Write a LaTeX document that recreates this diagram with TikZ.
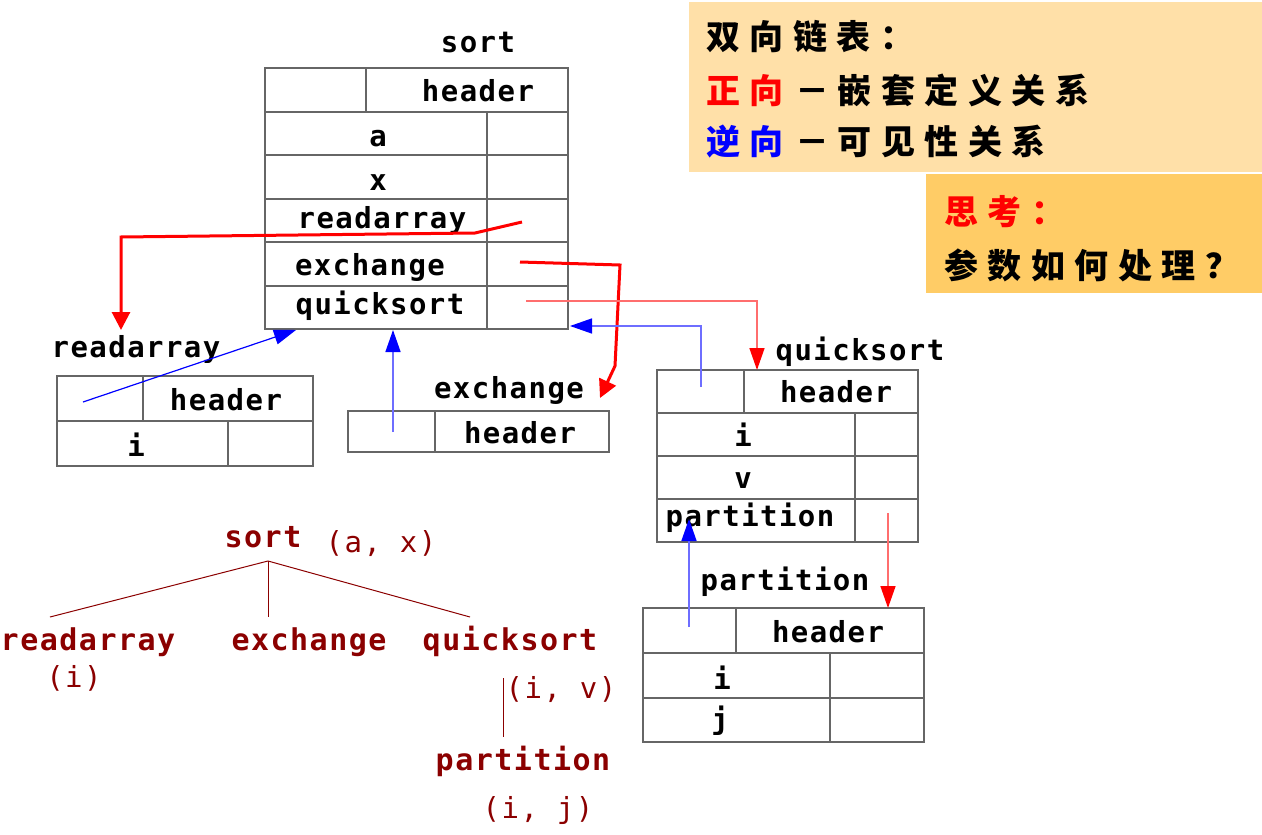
\documentclass[tikz,border=0pt]{standalone}
\usepackage{fontspec}
\usetikzlibrary{arrows.meta}
\newfontfamily\lat[LetterSpace=5]{DejaVu Sans Mono}
\newfontfamily\cjk[LetterSpace=28]{Noto Sans CJK SC}
\definecolor{treered}{RGB}{139,0,0}
\definecolor{boxa}{RGB}{255,224,168}
\definecolor{boxb}{RGB}{255,204,102}
\definecolor{lred}{RGB}{255,110,110}
\definecolor{lblue}{RGB}{110,110,255}
\tikzset{
  tbl/.style={draw=black!60, line width=1.3pt},
  lbl/.style={font=\lat\bfseries\fontsize{29}{31}\selectfont, inner sep=0pt, anchor=base},
  tlbl/.style={lbl, text=treered, font=\lat\bfseries\fontsize{30}{32}\selectfont},
  targ/.style={lbl, text=treered, font=\lat\fontsize{29}{31}\selectfont},
  tline/.style={draw=treered, line width=1pt},
  cjkt/.style={font=\cjk\bfseries\fontsize{34}{36}\selectfont, inner sep=0pt, anchor=west},
  thickred/.style={draw=red, line width=3pt, -{Triangle[length=18pt,width=18pt]}},
  thinred/.style={draw=lred, line width=1.5pt, -{Triangle[length=22pt,width=15pt,color=red,fill=red]}},
  thinblue/.style={draw=blue, line width=1.2pt, -{Triangle[length=22pt,width=15pt,fill=blue]}},
  lbluearr/.style={draw=lblue, line width=1.5pt, -{Triangle[length=22pt,width=15pt,color=blue,fill=blue]}}
}
\begin{document}
\begin{tikzpicture}[x=1pt,y=-1pt]
\useasboundingbox (0,0) rectangle (1262,835);
% info boxes
\fill[boxa] (689,2) rectangle (1262,172);
\fill[boxb] (926,174) rectangle (1262,293);
\node[cjkt] (t1) at (706,37) {双向链表：};
\node[cjkt] (t2) at (706,90) {\textcolor{red}{正向}\hspace{12pt}－\hspace{8pt}嵌套定义关系};
\node[cjkt] (t3) at (706,142) {\textcolor{blue}{逆向}\hspace{12pt}－\hspace{8pt}可见性关系};
\node[cjkt] (t4) at (944,212) {\textcolor{red}{思考：}};
\node[cjkt] (t5) at (944,265) {参数如何处理？};

% sort table
\draw[tbl] (265,68) rectangle (568,329);
\foreach \y in {112,155,199,242,286} \draw[tbl] (265,\y) -- (568,\y);
\draw[tbl] (366,68) -- (366,112);
\draw[tbl] (487,112) -- (487,329);
\node[lbl] (sortt) at (478,52) {sort};
\node[lbl] (sorth) at (478,101) {header};
\node[lbl] (sa) at (378,146) {a};
\node[lbl] (sx) at (378,190) {x};
\node[lbl] (sr) at (382,228) {readarray};
\node[lbl] (se) at (370,275) {exchange};
\node[lbl] (sq) at (380,314) {quicksort};

% readarray table
\draw[tbl] (57,376) rectangle (313,466);
\draw[tbl] (57,421) -- (313,421);
\draw[tbl] (143,376) -- (143,421);
\draw[tbl] (228,421) -- (228,466);
\node[lbl] (rat) at (136,357) {readarray};
\node[lbl] (rah) at (226,410) {header};
\node[lbl] (rai) at (136,456) {i};

% exchange table
\draw[tbl] (348,411) rectangle (609,452);
\draw[tbl] (435,411) -- (435,452);
\node[lbl] (ext) at (509,398) {exchange};
\node[lbl] (exh) at (520,443) {header};

% quicksort table
\draw[tbl] (657,370) rectangle (918,542);
\foreach \y in {413,456,499} \draw[tbl] (657,\y) -- (918,\y);
\draw[tbl] (744,370) -- (744,413);
\draw[tbl] (855,413) -- (855,542);
\node[lbl] (qst) at (860,360) {quicksort};
\node[lbl] (qsh) at (836,402) {header};
\node[lbl] (qsi) at (743,446) {i};
\node[lbl] (qsv) at (743,488) {v};
\node[lbl] (qsp) at (750,526) {partition};

% partition table
\draw[tbl] (643,608) rectangle (924,742);
\foreach \y in {653,698} \draw[tbl] (643,\y) -- (924,\y);
\draw[tbl] (736,608) -- (736,653);
\draw[tbl] (830,653) -- (830,742);
\node[lbl] (ptt) at (785,590) {partition};
\node[lbl] (pth) at (828,642) {header};
\node[lbl] (pti) at (722,689) {i};
\node[lbl] (ptj) at (720,729) {j};

% connector coordinates
\coordinate (r1s) at (522,222);
\coordinate (r1a) at (475,233);
\coordinate (r1b) at (121,237);
\coordinate (r1e) at (121,330);
\coordinate (r2s) at (520,262);
\coordinate (r2a) at (620,265);
\coordinate (r2b) at (615,366);
\coordinate (r2e) at (600,398);
\coordinate (r3s) at (526,301);
\coordinate (r3a) at (757,301);
\coordinate (r3e) at (757,370);
\coordinate (r4s) at (888,513);
\coordinate (r4e) at (888,608);
\coordinate (b1s) at (83,402);
\coordinate (b1e) at (296,330);
\coordinate (b2s) at (393,432);
\coordinate (b2e) at (393,330);
\coordinate (b3s) at (701,387);
\coordinate (b3a) at (701,326);
\coordinate (b3e) at (570,326);
\coordinate (b4s) at (689,627);
\coordinate (b4e) at (689,519);

\draw[thickred] (r1s) -- (r1a) -- (r1b) -- (r1e);
\draw[thickred] (r2s) -- (r2a) -- (r2b) -- (r2e);
\draw[thinred] (r3s) -- (r3a) -- (r3e);
\draw[thinred] (r4s) -- (r4e);
\draw[thinblue] (b1s) -- (b1e);
\draw[lbluearr] (b2s) -- (b2e);
\draw[lbluearr] (b3s) -- (b3a) -- (b3e);
\draw[lbluearr] (b4s) -- (b4e);

% tree
\node[tlbl] (tsort) at (263,547) {sort};
\node[targ] (tax) at (381,552) {(a, x)};
\node[tlbl] (tra) at (88,650) {readarray};
\node[targ] (tri) at (74,687) {(i)};
\node[tlbl] (tex) at (309,650) {exchange};
\node[tlbl] (tqs) at (510,650) {quicksort};
\node[targ] (tiv) at (561,698) {(i, v)};
\node[tlbl] (tpt) at (523,770) {partition};
\node[targ] (tij) at (538,818) {(i, j)};
\coordinate (apex) at (268,561);
\coordinate (c1) at (50,617);
\coordinate (c2) at (268,617);
\coordinate (c3) at (470,617);
\coordinate (v1) at (503,678);
\coordinate (v2) at (503,737);
\draw[tline] (apex) -- (c1);
\draw[tline] (apex) -- (c2);
\draw[tline] (apex) -- (c3);
\draw[tline] (v1) -- (v2);
\end{tikzpicture}
\end{document}
